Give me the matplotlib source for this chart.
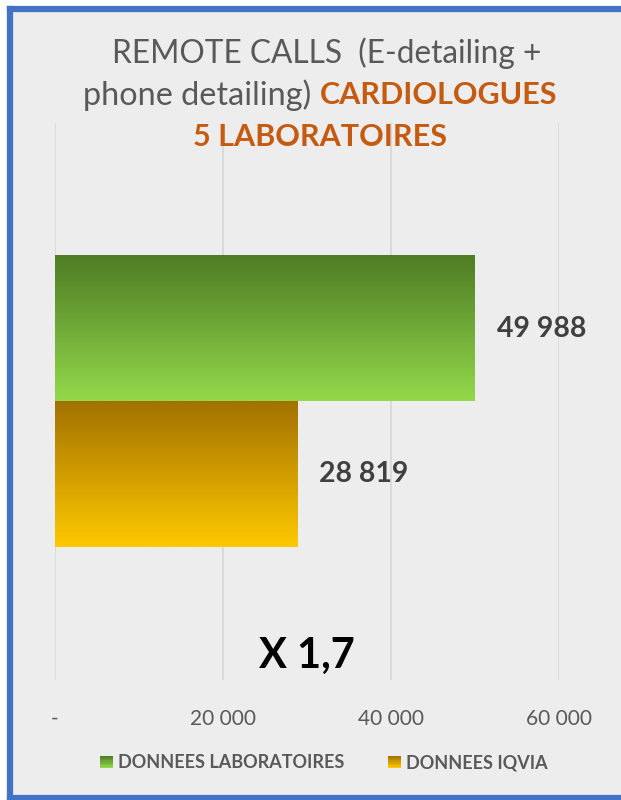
import numpy as np
import matplotlib.pyplot as plt
from matplotlib.patches import Rectangle
from matplotlib.lines import Line2D
from matplotlib.legend_handler import HandlerBase

plt.rcParams['font.family'] = ['Lato', 'DejaVu Sans']

series = ['DONNEES LABORATOIRES', 'DONNEES IQVIA']
values = [49988, 28819]
value_labels = ['49 988', '28 819']
ticks = [0, 20000, 40000, 60000]
tick_labels = ['-', '20 000', '40 000', '60 000']
ratio_text = 'X 1,7'

# gradient colours (top, bottom)
grads = [('#4f7d25', '#92d84a'), ('#a27200', '#ffc800')]
GRAY = '#595959'
ORANGE = '#c55a11'
BG = '#ededed'
BLUE = '#4472c4'


def vgrad(top, bottom, n=64):
    c1 = np.array(plt.matplotlib.colors.to_rgb(top))
    c2 = np.array(plt.matplotlib.colors.to_rgb(bottom))
    t = np.linspace(0, 1, n)[:, None]
    return (c1 * (1 - t) + c2 * t)[:, None, :]


class GradHandler(HandlerBase):
    def __init__(self, top, bottom):
        super().__init__()
        self.top, self.bottom = top, bottom

    def create_artists(self, legend, orig, xd, yd, w, h, fs, trans):
        s = min(w, h)
        x0 = xd + (w - s) / 2
        y0 = yd + (h - s) / 2
        arts = []
        n = 8
        cols = vgrad(self.top, self.bottom, n)[:, 0, :]
        for i in range(n):
            r = Rectangle((x0, y0 + s - (i + 1) * s / n), s, s / n,
                          facecolor=cols[i], edgecolor='none', transform=trans)
            arts.append(r)
        return arts


fig = plt.figure(figsize=(6.21, 8), dpi=100)
fig.patch.set_facecolor('white')
# panel background and blue border (no right edge, it is cut off)
fig.patches.append(Rectangle((10 / 621, 0), 1, 1 - 9 / 800,
                             transform=fig.transFigure, facecolor=BG,
                             edgecolor='none', zorder=-5))
# right side of the panel is cut off in the source
fig.patches.append(Rectangle((1 - 6 / 621, 0), 0.02, 1 - 9 / 800,
                             transform=fig.transFigure, facecolor=BG,
                             edgecolor='none', zorder=1.5))
lw = 4.5
for xs, ys in [([10 / 621, 10 / 621], [2 / 800, 1 - 9 / 800]),
               ([10 / 621, 1.01], [1 - 9 / 800, 1 - 9 / 800]),
               ([10 / 621, 1.01], [2 / 800, 2 / 800])]:
    fig.lines.append(Line2D(xs, ys, color=BLUE, lw=lw, transform=fig.transFigure,
                            solid_capstyle='projecting', zorder=3))

ax = fig.add_axes([55 / 621, 1 - 680 / 800, 504 / 621, 557 / 800])
ax.patch.set_alpha(0)

h = 0.262
ypos = [h / 2, -h / 2]
bars = ax.barh(ypos, values, height=h, color='none')
for b, (top, bot) in zip(bars, grads):
    x, y = b.get_x(), b.get_y()
    ax.imshow(vgrad(top, bot), extent=[x, x + b.get_width(), y, y + b.get_height()],
              aspect='auto', zorder=2)

for b, lab in zip(bars, value_labels):
    ax.text(b.get_width() + 2600, b.get_y() + b.get_height() / 2, lab,
            ha='left', va='center', fontsize=20.5, fontweight='bold', color='#404040')

ax.set_xlim(0, 60000)
ax.set_ylim(-0.5, 0.5)
ax.set_xticks(ticks)
ax.set_xticklabels(tick_labels, fontsize=15, color=GRAY)
ax.set_yticks([])
ax.tick_params(axis='x', length=0, pad=21)
ax.grid(axis='x', color='#d9d9d9', linewidth=1.3, zorder=0)
ax.set_axisbelow(True)
for s in ax.spines.values():
    s.set_visible(False)

ax.text(0.5, 0.043, ratio_text, ha='center', va='center', fontsize=30,
        fontweight='bold', color='black', transform=ax.transAxes)

# title, three lines with mixed colours
cx = 320 / 621
fig.text(cx + 7 / 621, 1 - 53 / 800, 'REMOTE CALLS  (E-detailing +', ha='center',
         va='center', fontsize=22.8, color=GRAY)
fig.canvas.draw()
r = fig.canvas.get_renderer()
p1 = fig.text(0, 1 - 95 / 800, 'phone detailing) ', ha='left', va='center',
              fontsize=23.3, color=GRAY)
p2 = fig.text(0, 1 - 95 / 800, 'CARDIOLOGUES', ha='left', va='center',
              fontsize=22, fontweight='bold', color=ORANGE)
w1 = p1.get_window_extent(r).width / fig.bbox.width
w2 = p2.get_window_extent(r).width / fig.bbox.width
x0 = cx - (w1 + w2) / 2
p1.set_x(x0)
p2.set_x(x0 + w1)
fig.text(cx, 1 - 137 / 800, '5 LABORATOIRES', ha='center', va='center',
         fontsize=22, fontweight='bold', color=ORANGE)

handles = [Rectangle((0, 0), 1, 1) for _ in series]
leg = fig.legend(handles, series, loc='center', bbox_to_anchor=(324 / 621, 1 - 763 / 800),
                 ncol=2, frameon=False,
                 handler_map={hd: GradHandler(*g) for hd, g in zip(handles, grads)},
                 handlelength=0.72, handleheight=0.72, handletextpad=0.3, columnspacing=2.4,
                 prop={'size': 13, 'weight': 'bold'})
for t in leg.get_texts():
    t.set_color(GRAY)
    t.set_fontweight('bold')

fig.savefig('out.png', dpi=100, facecolor=fig.get_facecolor())
